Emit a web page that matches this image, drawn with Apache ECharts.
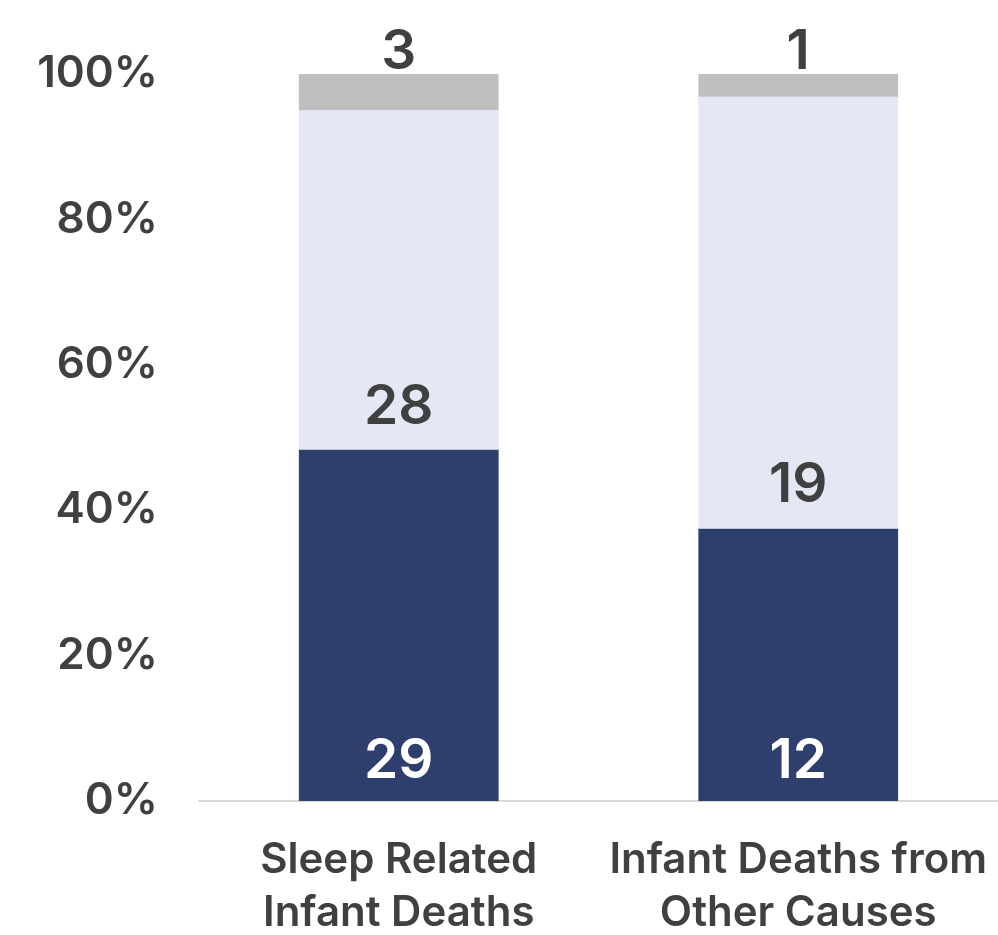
<!DOCTYPE html>
<html>
<head>
<meta charset="utf-8">
<script src="https://cdn.jsdelivr.net/npm/echarts@6/dist/echarts.min.js"></script>
<style>html,body{margin:0;padding:0;background:#fff;}#c{width:998px;height:935px;}</style>
</head>
<body>
<div id="c"></div>
<script>
var categories = ["Sleep Related\nInfant Deaths", "Infant Deaths from\nOther Causes"];
var seriesA = [29, 12];
var seriesB = [28, 19];
var seriesC = [3, 1];
var tickLabels = ["0%", "20%", "40%", "60%", "80%", "100%"];

var totals = categories.map(function (c, i) { return seriesA[i] + seriesB[i] + seriesC[i]; });
function pct(arr) { return arr.map(function (v, i) { return { value: v / totals[i], count: v }; }); }
var fontFam = "Inter, 'Open Sans', 'Liberation Sans', Arial, sans-serif";
var fw = 600;
var txt = '#404040';

var chart = echarts.init(document.getElementById('c'));
chart.setOption({
  animation: false,
  grid: { left: 199, right: 0, top: 74, bottom: 134, containLabel: false, outerBoundsMode: 'none' },
  xAxis: {
    type: 'category',
    data: categories,
    axisLine: { lineStyle: { color: '#D9D9D9', width: 2 } },
    axisTick: { show: false },
    axisLabel: { color: txt, fontFamily: fontFam, fontWeight: fw, fontSize: 42, lineHeight: 53, margin: 33, interval: 0 }
  },
  yAxis: {
    type: 'value', min: 0, max: 1, interval: 0.2,
    splitLine: { show: false },
    axisLine: { show: false },
    axisTick: { show: false },
    axisLabel: {
      color: txt, fontFamily: fontFam, fontWeight: fw, fontSize: 44, margin: 41,
      formatter: function (v) { return tickLabels[Math.round(v * 5)]; }
    }
  },
  series: [
    {
      type: 'bar', stack: 's', barWidth: '50%', data: pct(seriesA),
      itemStyle: { color: '#2E3F6E' },
      label: { show: true, position: 'insideBottom', distance: 12, color: '#fff', fontFamily: fontFam, fontWeight: fw, fontSize: 55,
        formatter: function (p) { return p.data.count; } }
    },
    {
      type: 'bar', stack: 's', barWidth: '50%', data: pct(seriesB),
      itemStyle: { color: '#E4E8F4' },
      label: { show: true, position: 'insideBottom', distance: 15, color: txt, fontFamily: fontFam, fontWeight: fw, fontSize: 55,
        formatter: function (p) { return p.data.count; } }
    },
    {
      type: 'bar', stack: 's', barWidth: '50%', data: pct(seriesC),
      itemStyle: { color: '#BFBFBF' },
      label: { show: true, position: 'top', distance: 0, offset: [0, 6], color: txt, fontFamily: fontFam, fontWeight: fw, fontSize: 55,
        formatter: function (p) { return p.data.count; } }
    }
  ]
});
</script>
</body>
</html>
